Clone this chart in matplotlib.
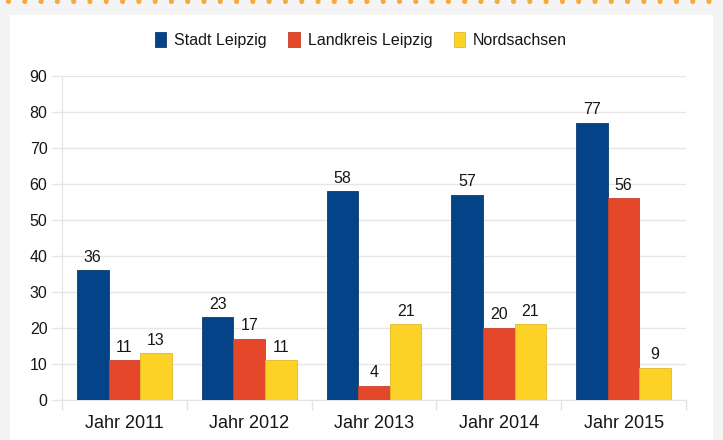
import matplotlib
matplotlib.use("Agg")
import matplotlib.pyplot as plt
import numpy as np
from matplotlib.lines import Line2D
from matplotlib.patches import Rectangle

plt.rcParams['font.family'] = ['Liberation Sans', 'DejaVu Sans']

categories = ["Jahr 2011", "Jahr 2012", "Jahr 2013", "Jahr 2014", "Jahr 2015"]
series_names = ["Stadt Leipzig", "Landkreis Leipzig", "Nordsachsen"]
stadt = [36, 23, 58, 57, 77]
landkreis = [11, 17, 4, 20, 56]
nordsachsen = [13, 11, 21, 21, 9]
yticks = [0, 10, 20, 30, 40, 50, 60, 70, 80, 90]

colors = ["#044387", "#e4472a", "#fdd226"]
edge_colors = ["#0b3a70", "#c94029", "#e0b92a"]
text_color = "#161616"

W, H = 723, 440
fig = plt.figure(figsize=(W / 100, H / 100), dpi=100)
fig.patch.set_facecolor("#f4f4f4")

# white panel
fig.add_artist(Rectangle((10 / W, 0), 703 / W, 1 - 15 / H, transform=fig.transFigure,
                         facecolor="white", edgecolor="none", zorder=0))
# dotted orange top border
fig.add_artist(Line2D([8 / W, 1.0], [1 - 0.8 / H, 1 - 0.8 / H], transform=fig.transFigure,
                      color="#f7a93b", linewidth=3.7, linestyle=(0, (0.01, 3.16)),
                      dash_capstyle="round", zorder=1))

ax = fig.add_axes([62 / W, 1 - 400 / H, 624 / W, 324 / H])
ax.set_facecolor("white")

x = np.arange(len(categories))
bw = 0.253
data = [stadt, landkreis, nordsachsen]
for i, (vals, c, ec, name) in enumerate(zip(data, colors, edge_colors, series_names)):
    pos = x + (i - 1) * bw
    bars = ax.bar(pos, vals, width=bw, color=c, edgecolor=ec, linewidth=0.6,
                  label=name, zorder=3)
    for b, v in zip(bars, vals):
        ax.annotate(str(v), (b.get_x() + b.get_width() / 2, v), xytext=(0, 4),
                    textcoords="offset points", ha="center", va="bottom",
                    fontsize=11.5, color=text_color)

ax.set_xlim(-0.5, len(categories) - 0.5)
ax.set_ylim(0, 90)
ax.set_yticks(yticks)
ax.set_yticklabels([str(t) for t in yticks])
ax.grid(axis="y", color="#e6e6e6", linewidth=1, zorder=0)
ax.set_axisbelow(True)

# x ticks at boundaries, labels at centers
ax.set_xticks(np.arange(-0.5, len(categories), 1.0))
ax.set_xticklabels([])
ax.set_xticks(x, minor=True)
ax.set_xticklabels(categories, minor=True)
ax.tick_params(axis="x", which="major", length=7, color="#e3e3e3", width=1)
ax.tick_params(axis="x", which="minor", length=0, pad=11, labelsize=13, labelcolor=text_color)
ax.tick_params(axis="y", length=8, color="#e6e6e6", width=1, pad=2.5, labelsize=11.5,
               labelcolor=text_color)

for s in ["top", "right"]:
    ax.spines[s].set_visible(False)
ax.spines["left"].set_color("#e3e3e3")
ax.spines["bottom"].set_color("#e3e3e3")

leg = fig.legend(loc="center", bbox_to_anchor=(361 / W, 1 - 40 / H), ncol=3, frameon=False,
                 fontsize=11.5, handlelength=0.7, handleheight=1.1, handletextpad=0.5,
                 columnspacing=1.35, labelcolor=text_color)

fig.savefig("out.png", dpi=100, facecolor=fig.get_facecolor())
